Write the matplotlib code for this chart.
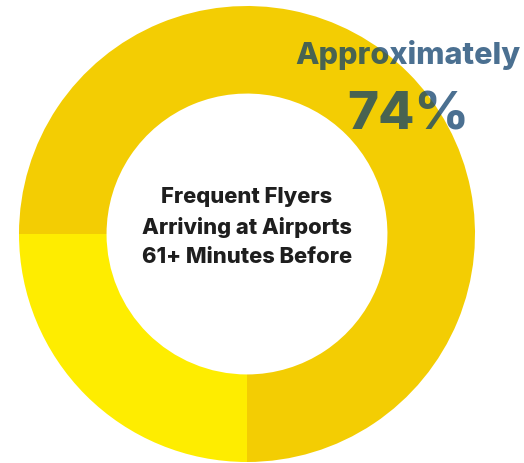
import matplotlib.pyplot as plt

# share of frequent flyers arriving 61+ minutes before
shares = [25, 75]
labels = ["Other", "61+ minutes"]
colors = ["#FEED00", "#F3CD03"]

headline = "Approximately"
value_text = "74%"
center_text = "Frequent Flyers\nArriving at Airports\n61+ Minutes Before"

W, H = 524, 463
fig = plt.figure(figsize=(W / 100, H / 100), dpi=100)
ax = fig.add_axes([0, 0, 1, 1])

cx, cy, r = 247, H - 234, 228
ax.pie(shares, colors=colors, startangle=180, counterclock=True,
       center=(cx, cy), radius=r, frame=True,
       wedgeprops=dict(width=r * 0.384, linewidth=0))
ax.set_xlim(0, W)
ax.set_ylim(0, H)
ax.set_aspect("equal")
ax.axis("off")

fam = ["Inter", "DejaVu Sans"]
ax.text(cx, H - 227, center_text, ha="center", va="center", fontsize=15.8,
        fontweight="heavy", color="#1E1E1E", family=fam, linespacing=1.55)
ax.text(408, H - 55, headline, ha="center", va="center", fontsize=22,
        fontweight="heavy", color="#0F406C", alpha=0.75, family=fam)
ax.text(408, H - 116, value_text, ha="center", va="center", fontsize=38,
        fontweight="heavy", color="#0F406C", alpha=0.75, family=fam)

fig.savefig("out.png", dpi=100)
